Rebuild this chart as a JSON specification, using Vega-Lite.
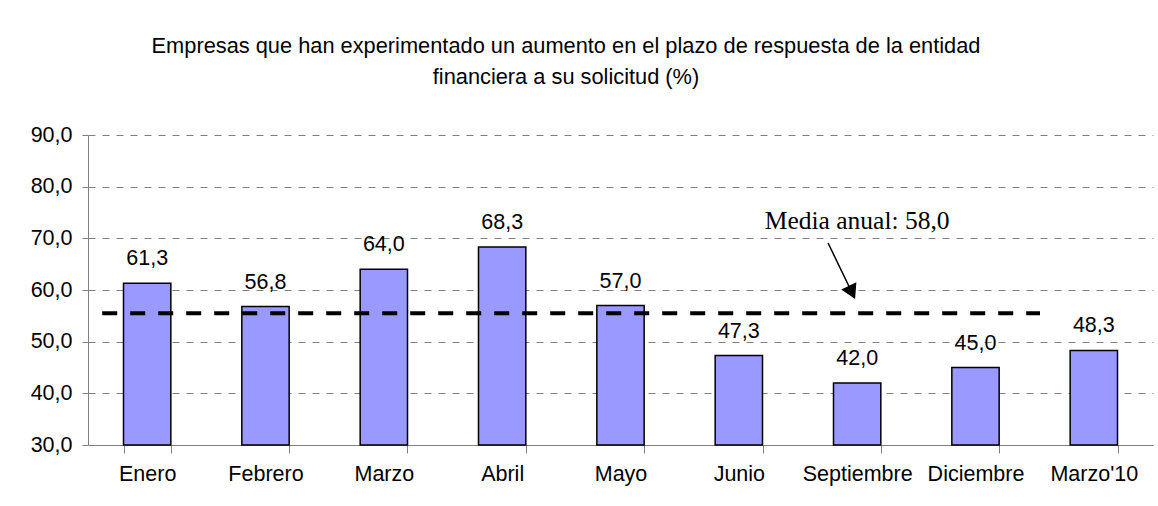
{
  "$schema": "https://vega.github.io/schema/vega-lite/v6.json",
  "width": 1065,
  "height": 310,
  "autosize": "none",
  "padding": {"left": 88, "top": 135, "right": 5, "bottom": 61},
  "background": "white",
  "title": {
    "text": ["Empresas que han experimentado un aumento en el plazo de respuesta de la entidad", "financiera a su solicitud (%)"],
    "font": "Liberation Sans",
    "fontSize": 21.8,
    "fontWeight": "normal",
    "color": "black",
    "anchor": "middle",
    "frame": "group",
    "dx": -54.5,
    "offset": 35,
    "lineHeight": 31
  },
  "config": {"view": {"stroke": null}},
  "datasets": {
    "barras": [
      {"mes": "Enero", "valor": 61.3, "etiqueta": "61,3"},
      {"mes": "Febrero", "valor": 56.8, "etiqueta": "56,8"},
      {"mes": "Marzo", "valor": 64.0, "etiqueta": "64,0"},
      {"mes": "Abril", "valor": 68.3, "etiqueta": "68,3"},
      {"mes": "Mayo", "valor": 57.0, "etiqueta": "57,0"},
      {"mes": "Junio", "valor": 47.3, "etiqueta": "47,3"},
      {"mes": "Septiembre", "valor": 42.0, "etiqueta": "42,0"},
      {"mes": "Diciembre", "valor": 45.0, "etiqueta": "45,0"},
      {"mes": "Marzo'10", "valor": 48.3, "etiqueta": "48,3"}
    ],
    "media": [{"x": 0.12, "x2": 8.045, "y": 55.5}],
    "flecha": [{"x": 6.254, "x2": 6.456, "y": 69.1, "y2": 59.52}],
    "punta": [{"x": 6.456, "y": 59.52}],
    "nota": [{"x": 6.5, "y": 71.75, "texto": "Media anual: 58,0"}]
  },
  "layer": [
    {
      "data": {"name": "barras"},
      "encoding": {
        "x": {
          "field": "mes", "type": "nominal", "sort": null,
          "scale": {"paddingInner": 0.6, "paddingOuter": 0.3},
          "axis": {
            "title": null, "labelAngle": 0, "labelFont": "Liberation Sans", "labelFontSize": 21.5,
            "labelColor": "black", "labelPadding": 10, "tickSize": 8, "tickBand": "extent",
            "tickColor": "#808080", "domainColor": "#808080", "grid": false
          }
        },
        "y": {
          "field": "valor", "type": "quantitative",
          "scale": {"domain": [30, 90], "zero": false, "nice": false},
          "axis": {
            "title": null, "values": [30, 40, 50, 60, 70, 80, 90],
            "labelExpr": "replace(format(datum.value, '.1f'), '.', ',')",
            "labelFont": "Liberation Sans", "labelFontSize": 21.5, "labelColor": "black",
            "labelPadding": 10, "tickSize": 6, "tickColor": "#808080", "domainColor": "#808080",
            "grid": true, "gridDash": [7, 7], "gridColor": "#808080", "gridWidth": 1
          }
        }
      },
      "layer": [
        {
          "mark": {"type": "bar", "fill": "#9999ff", "stroke": "black", "strokeWidth": 1.5},
          "encoding": {"y2": {"datum": 30}}
        },
        {
          "mark": {"type": "text", "baseline": "alphabetic", "dy": -18, "font": "Liberation Sans", "fontSize": 21.5, "color": "black"},
          "encoding": {"text": {"field": "etiqueta"}}
        }
      ]
    },
    {
      "data": {"name": "media"},
      "mark": {"type": "rule", "color": "black", "strokeWidth": 4, "strokeDash": [15, 13]},
      "encoding": {
        "x": {"field": "x", "type": "quantitative", "scale": {"domain": [0, 9], "zero": false, "nice": false}, "axis": null},
        "x2": {"field": "x2"},
        "y": {"field": "y", "type": "quantitative", "scale": {"domain": [30, 90], "zero": false, "nice": false}, "axis": {"title": null}}
      }
    },
    {
      "data": {"name": "flecha"},
      "mark": {"type": "rule", "color": "black", "strokeWidth": 1.5},
      "encoding": {
        "x": {"field": "x", "type": "quantitative", "scale": {"domain": [0, 9], "zero": false, "nice": false}, "axis": null},
        "x2": {"field": "x2"},
        "y": {"field": "y", "type": "quantitative", "scale": {"domain": [30, 90], "zero": false, "nice": false}, "axis": {"title": null}},
        "y2": {"field": "y2"}
      }
    },
    {
      "data": {"name": "punta"},
      "mark": {"type": "point", "shape": "triangle-down", "filled": true, "color": "black", "size": 280, "angle": 334.3, "opacity": 1},
      "encoding": {
        "x": {"field": "x", "type": "quantitative", "scale": {"domain": [0, 9], "zero": false, "nice": false}, "axis": null},
        "y": {"field": "y", "type": "quantitative", "scale": {"domain": [30, 90], "zero": false, "nice": false}, "axis": {"title": null}}
      }
    },
    {
      "data": {"name": "nota"},
      "mark": {"type": "text", "baseline": "alphabetic", "align": "center", "font": "Liberation Serif", "fontSize": 25.5, "color": "black"},
      "encoding": {
        "x": {"field": "x", "type": "quantitative", "scale": {"domain": [0, 9], "zero": false, "nice": false}, "axis": null},
        "y": {"field": "y", "type": "quantitative", "scale": {"domain": [30, 90], "zero": false, "nice": false}, "axis": {"title": null}},
        "text": {"field": "texto"}
      }
    }
  ],
  "resolve": {"scale": {"x": "independent"}}
}
